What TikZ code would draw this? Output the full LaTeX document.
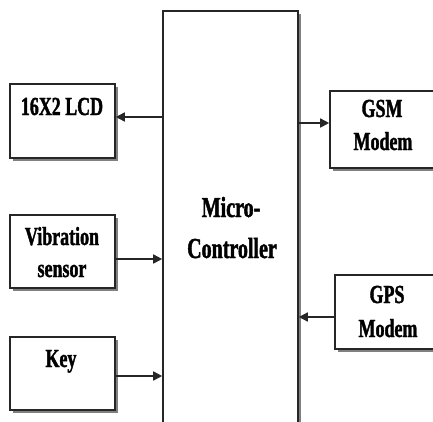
\documentclass[tikz,border=0pt]{standalone}
\usepackage{fontspec}
\setmainfont{Liberation Serif}[FakeStretch=0.69, FakeBold=1.5]
\usetikzlibrary{shadows,arrows.meta}
\begin{document}
\begin{tikzpicture}[x=1pt,y=-1pt,
  blk/.style={draw=black!85, line width=1.6pt, fill=white, inner sep=0pt,
    drop shadow={shadow xshift=2.5pt, shadow yshift=-2.5pt, fill=black!50, opacity=1}},
  lbl/.style={anchor=base, inner sep=0pt, font=\bfseries\fontsize{26}{28}\selectfont},
  mlbl/.style={anchor=base, inner sep=0pt, font=\bfseries\fontsize{29}{32}\selectfont},
  arr/.style={draw=black!85, line width=1.6pt, -{Triangle[length=9pt,width=9pt]}}]
\useasboundingbox (0,0) rectangle (433,421);
\clip (0,0) rectangle (433,421);
% boxes
\node[blk, minimum width=135pt, minimum height=420pt] (mc) at (230.5,221) {};
\node[blk, minimum width=105pt, minimum height=74pt] (lcd) at (62.5,121) {};
\node[blk, minimum width=105pt, minimum height=73pt] (vib) at (62.5,251.5) {};
\node[blk, minimum width=105pt, minimum height=73pt] (key) at (62.5,373.5) {};
\node[blk, minimum width=112pt, minimum height=77pt] (gsm) at (386,129.5) {};
\node[blk, minimum width=112pt, minimum height=74pt] (gps) at (391,312) {};
% labels
\node[mlbl] (mc1) at (231,217) {Micro-};
\node[mlbl] (mc2) at (232,258) {Controller};
\node[lbl] (lcdt) at (62,115) {16X2 LCD};
\node[lbl] (vib1) at (62,245) {Vibration};
\node[lbl] (vib2) at (62,277) {sensor};
\node[lbl] (keyt) at (61,367) {Key};
\node[lbl] (gsm1) at (382,117) {GSM};
\node[lbl] (gsm2) at (383,150) {Modem};
\node[lbl] (gps1) at (387,303) {GPS};
\node[lbl] (gps2) at (388,337) {Modem};
% connectors
\coordinate (a1) at ([yshift=4pt]lcd.east);
\draw[arr] (mc.west |- a1) -- (a1);
\coordinate (a2) at ([yshift=-7.5pt]vib.east);
\draw[arr] (a2) -- (mc.west |- a2);
\coordinate (a3) at ([yshift=-2.5pt]key.east);
\draw[arr] (a3) -- (mc.west |- a3);
\coordinate (a4) at ([yshift=6.5pt]gsm.west);
\draw[arr] (mc.east |- a4) -- (a4);
\coordinate (a5) at ([yshift=-5pt]gps.west);
\draw[arr] (a5) -- (mc.east |- a5);
\end{tikzpicture}
\end{document}
